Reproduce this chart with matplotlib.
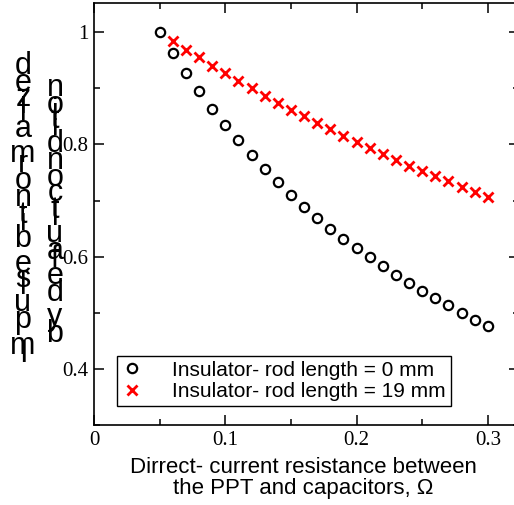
import numpy as np
import matplotlib
matplotlib.use('Agg')
import matplotlib.pyplot as plt
from matplotlib import font_manager as fm
from matplotlib.ft2font import FT2Font
from matplotlib.ticker import MultipleLocator, FormatStrFormatter

# resistance (ohm)
r_circ = [0.05, 0.06, 0.07, 0.08, 0.09, 0.10, 0.11, 0.12, 0.13, 0.14, 0.15, 0.16, 0.17,
          0.18, 0.19, 0.20, 0.21, 0.22, 0.23, 0.24, 0.25, 0.26, 0.27, 0.28, 0.29, 0.30]
ib_0mm = [1.000, 0.963, 0.928, 0.895, 0.863, 0.835, 0.807, 0.781, 0.756, 0.733, 0.710, 0.689, 0.669,
          0.650, 0.632, 0.615, 0.599, 0.583, 0.568, 0.553, 0.539, 0.526, 0.513, 0.500, 0.488, 0.477]

r_cross = [0.06, 0.07, 0.08, 0.09, 0.10, 0.11, 0.12, 0.13, 0.14, 0.15, 0.16, 0.17,
           0.18, 0.19, 0.20, 0.21, 0.22, 0.23, 0.24, 0.25, 0.26, 0.27, 0.28, 0.29, 0.30]
ib_19mm = [0.985, 0.969, 0.955, 0.940, 0.927, 0.913, 0.900, 0.886, 0.874, 0.861, 0.851, 0.838,
           0.827, 0.815, 0.804, 0.793, 0.783, 0.772, 0.762, 0.753, 0.744, 0.735, 0.724, 0.716, 0.707]

lab_0 = 'Insulator- rod length = 0 mm'
lab_19 = 'Insulator- rod length = 19 mm'
xlab = 'Dirrect- current resistance between\nthe PPT and capacitors, \u03a9'
ylab1 = 'Impulse bit normalized'
ylab2 = 'by default condition'

W, H = 514, 505
fig = plt.figure(figsize=(W / 100, H / 100), dpi=100)
# right spine sits just outside the picture, as in the original
ax = fig.add_axes([94 / W, 80 / H, 425 / W, 422 / H])

ax.plot(r_circ, ib_0mm, 'o', ms=6.7, mfc='none', mec='black', mew=1.6, label=lab_0)
ax.plot(r_cross, ib_19mm, 'x', ms=6.5, color='red', mew=2.0, label=lab_19)

ax.set_xlim(0, 0.3237)
ax.set_ylim(0.3, 1.052)
ax.xaxis.set_major_locator(MultipleLocator(0.1))
ax.xaxis.set_minor_locator(MultipleLocator(0.05))
ax.yaxis.set_major_locator(MultipleLocator(0.2))
ax.yaxis.set_minor_locator(MultipleLocator(0.1))
ax.xaxis.set_major_formatter(FormatStrFormatter('%g'))
ax.yaxis.set_major_formatter(FormatStrFormatter('%g'))
ax.tick_params(which='both', direction='in', top=True, right=True, width=1.1, pad=4,
               labelsize=15)
ax.tick_params(which='major', length=7.5)
ax.tick_params(which='minor', length=4)
for t in ax.get_xticklabels() + ax.get_yticklabels():
    t.set_family('Liberation Serif')
for s in ax.spines.values():
    s.set_linewidth(1.2)

ax.set_xlabel(xlab, family='Liberation Sans', fontsize=16, linespacing=1.05, labelpad=6)
ax.xaxis.set_label_coords(209 / 425, -0.075, transform=ax.transAxes)
ax.xaxis.label.set_va('top')

leg = ax.legend(loc='lower left', bbox_to_anchor=(0.054, 0.045), prop={'family': 'Liberation Sans', 'size': 15},
                frameon=True, fancybox=False, edgecolor='black', framealpha=1,
                handlelength=0.9, handletextpad=1.5, borderpad=0.25, labelspacing=0.1,
                borderaxespad=0)
leg.get_frame().set_linewidth(1.0)

# y label: upright glyphs stacked from bottom to top
ysize = 22
fpath = fm.findfont(fm.FontProperties(family='Liberation Sans'))
ft = FT2Font(fpath)
ft.set_size(ysize, 100)


def stack(text, xc, ybase):
    y = ybase
    for c in text:
        if c != ' ':
            fig.text(xc / W, (H - y) / H, c, ha='center', va='baseline',
                     family='Liberation Sans', fontsize=ysize)
        g = ft.load_char(ord(c))
        y -= g.linearHoriAdvance / 65536


stack(ylab1, 23, 362)
stack(ylab2, 55, 342)

fig.savefig('out.png', dpi=100)
